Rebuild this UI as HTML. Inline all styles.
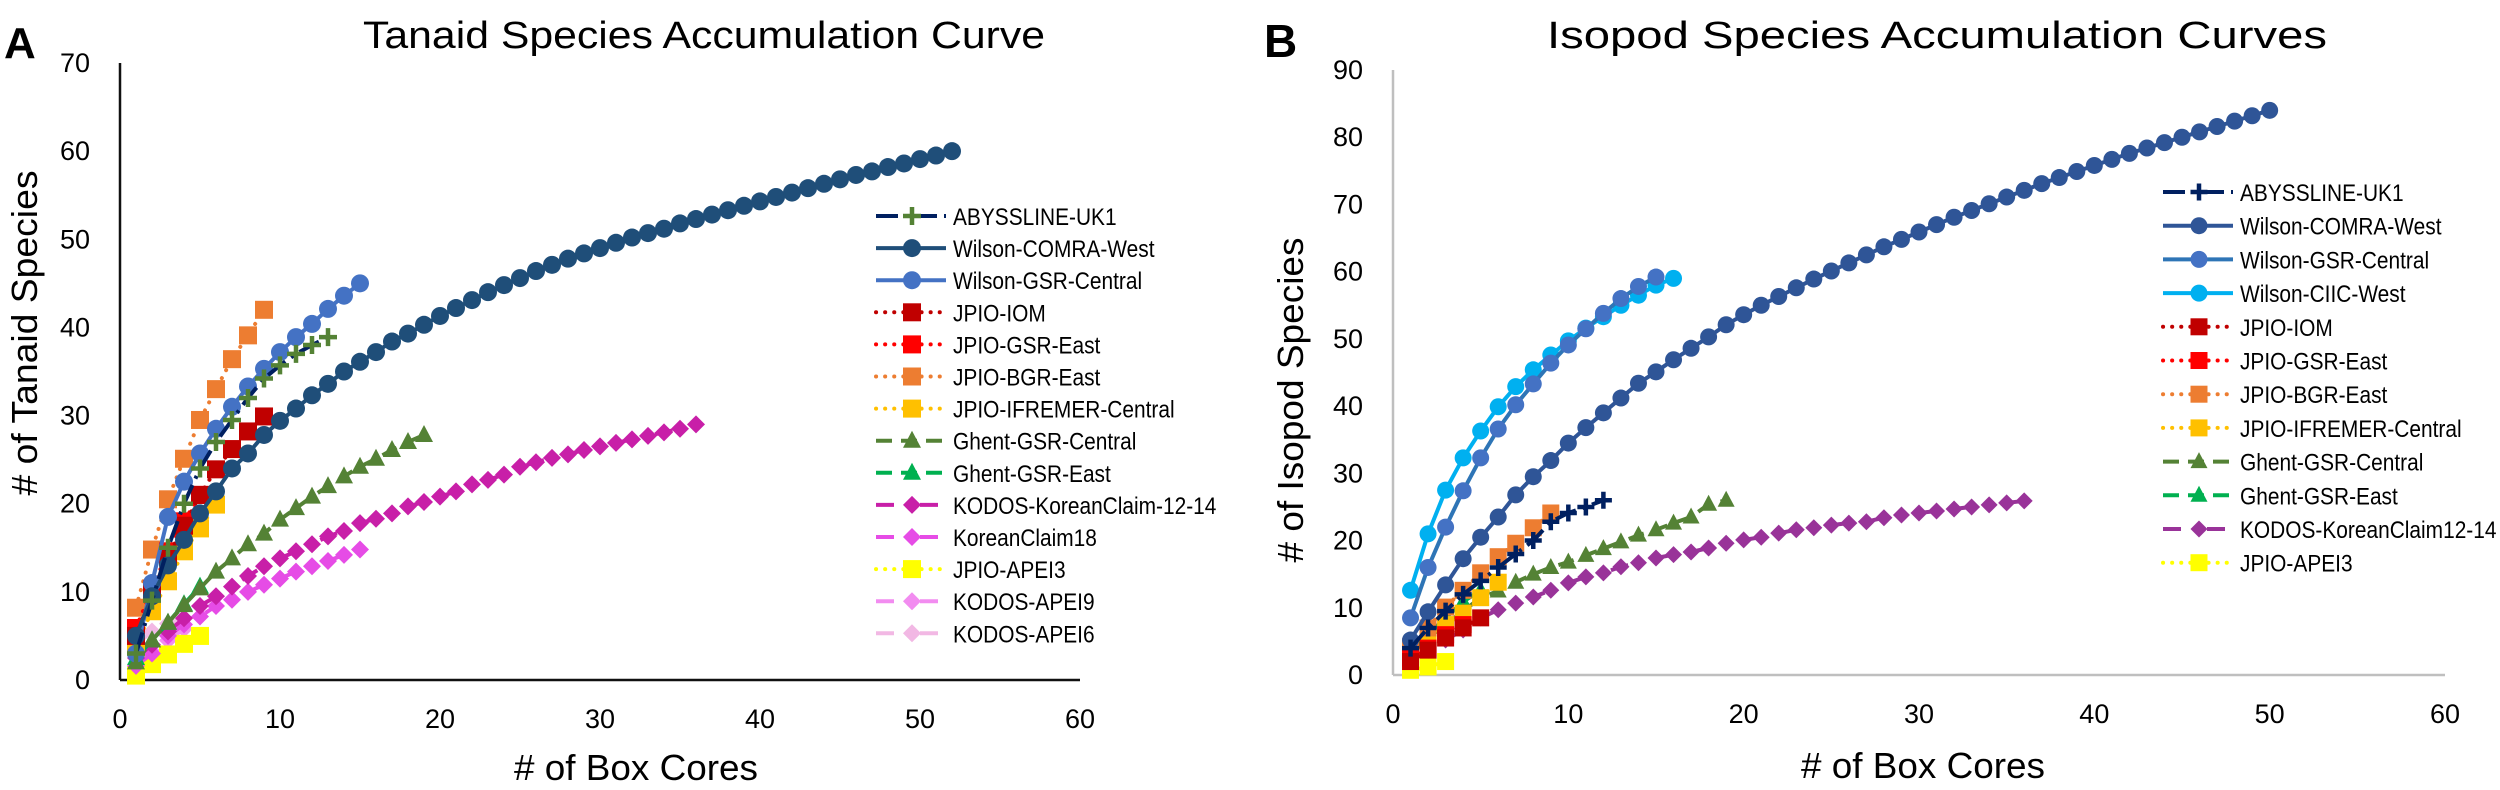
<!DOCTYPE html>
<html>
<head>
<meta charset="utf-8">
<style>
html,body{margin:0;padding:0;background:#fff;}
svg{display:block;font-family:"Liberation Sans",sans-serif;}
</style>
</head>
<body>
<svg id="fig" width="2500" height="790" viewBox="0 0 2500 790" xmlns="http://www.w3.org/2000/svg">
  <text x="4" y="58" font-size="44" font-weight="bold">A</text>
  <text x="1264" y="57" font-size="46" font-weight="bold">B</text>
  <text x="704" y="48" font-size="38" text-anchor="middle" textLength="682" lengthAdjust="spacingAndGlyphs">Tanaid Species Accumulation Curve</text>
  <text x="1937" y="48" font-size="38" text-anchor="middle" textLength="780" lengthAdjust="spacingAndGlyphs">Isopod Species Accumulation Curves</text>
  <text x="636" y="780" font-size="36" text-anchor="middle" textLength="244" lengthAdjust="spacingAndGlyphs"># of Box Cores</text>
  <text x="1923" y="778" font-size="36" text-anchor="middle" textLength="244" lengthAdjust="spacingAndGlyphs"># of Box Cores</text>
  <text transform="translate(37,333) rotate(-90)" font-size="36" text-anchor="middle" textLength="325" lengthAdjust="spacingAndGlyphs"># of Tanaid Species</text>
  <text transform="translate(1303,400) rotate(-90)" font-size="36" text-anchor="middle" textLength="325" lengthAdjust="spacingAndGlyphs"># of Isopod Species</text>
  <g id="chartA"></g>
  <g id="chartB"></g>
</svg>
<script>
// ---------- Tanaid data (species count per number of box cores, x = 1..n) ----------
const tanaidXTicks = [0, 10, 20, 30, 40, 50, 60];
const tanaidYTicks = [0, 10, 20, 30, 40, 50, 60, 70];
const tanAbyssline = [3, 9, 15, 20, 24, 27, 29.5, 32, 34.2, 35.7, 37, 38, 38.9];
const tanComraWest = [5, 9.5, 13, 15.9, 18.9, 21.4, 24, 25.7, 27.8, 29.4, 30.8, 32.3, 33.6, 35, 36.1, 37.2, 38.4, 39.3, 40.3, 41.3, 42.2, 43.1, 44, 44.8, 45.6, 46.4, 47.1, 47.8, 48.4, 49, 49.6, 50.2, 50.7, 51.2, 51.8, 52.3, 52.8, 53.3, 53.8, 54.3, 54.8, 55.3, 55.8, 56.3, 56.8, 57.3, 57.7, 58.2, 58.6, 59.1, 59.5, 60];
const tanGsrCentral = [3, 11, 18.5, 22.5, 25.7, 28.5, 31, 33.3, 35.3, 37.2, 38.9, 40.4, 42.1, 43.6, 45];
const tanJpioIom = [5, 10, 14, 17.5, 21, 23.9, 26.2, 28.2, 29.9];
const tanJpioGsrEast = [5.9, 10.3, 14.6, 18, 21];
const tanJpioBgrEast = [8.2, 14.8, 20.5, 25.1, 29.5, 33, 36.4, 39.1, 42];
const tanJpioIfremer = [4, 7.8, 11.2, 14.6, 17.2, 19.9];
const tanGhentCentral = [2, 4.5, 6.5, 8.5, 10.4, 12.3, 13.8, 15.4, 16.6, 18.2, 19.5, 20.8, 22, 23.1, 24.2, 25.1, 26.1, 27, 27.8];
const tanGhentEast = [2.5, 4.5, 6.5, 8.6, 10.6];
const tanKodosKC = [2.5, 4, 5.5, 7, 8.4, 9.5, 10.6, 11.8, 12.9, 13.8, 14.6, 15.4, 16.3, 16.9, 17.8, 18.3, 18.9, 19.7, 20.2, 20.8, 21.4, 22.2, 22.7, 23.3, 24.2, 24.7, 25.2, 25.6, 26.1, 26.5, 26.9, 27.3, 27.7, 28.1, 28.5, 29];
const tanKC18 = [1.6, 3, 5, 6.3, 7.2, 8.4, 9.1, 10, 10.8, 11.5, 12.3, 12.9, 13.5, 14.2, 14.8];
const tanApei3 = [0.5, 1.8, 2.9, 4.1, 5];
const tanApei9 = [1.5, 3.2, 4.5, 5.8];
const tanApei6 = [4, 5.5, 6.4, 7];

// ---------- Isopod data ----------
const isoXTicks = [0, 10, 20, 30, 40, 50, 60];
const isoYTicks = [0, 10, 20, 30, 40, 50, 60, 70, 80, 90];
const isoAbyssline = [4, 7, 9.5, 12, 14, 16, 18, 20, 22.8, 24.1, 25, 26];
const isoComraWest = [5.2, 9.4, 13.4, 17.3, 20.5, 23.5, 26.8, 29.5, 31.9, 34.5, 36.8, 39, 41.2, 43.4, 45.1, 46.9, 48.6, 50.3, 52.1, 53.6, 55, 56.3, 57.6, 58.9, 60.1, 61.3, 62.5, 63.7, 64.8, 65.9, 67, 68.1, 69.1, 70.1, 71.1, 72.1, 73.1, 74, 74.9, 75.8, 76.7, 77.6, 78.4, 79.2, 80, 80.8, 81.6, 82.4, 83.2, 84];
const isoGsrCentral = [8.5, 16, 22, 27.4, 32.3, 36.6, 40.2, 43.3, 46.4, 49.1, 51.5, 53.8, 56, 57.8, 59.2];
const isoCiicWest = [12.6, 21, 27.5, 32.3, 36.3, 39.9, 42.9, 45.4, 47.6, 49.7, 51.6, 53.3, 55, 56.5, 58, 59];
const isoJpioIom = [2, 3.7, 5.5, 7, 8.5];
const isoJpioGsrEast = [2.5, 4, 6, 7.5];
const isoJpioBgrEast = [4.2, 7, 10.1, 12.6, 15.2, 17.6, 19.6, 21.9, 24.1];
const isoJpioIfremer = [3, 5.5, 7.5, 9.2, 11.5, 13.8];
const isoGhentCentral = [3, 5.5, 7.5, 9.5, 11.5, 12.5, 13.8, 15, 16, 16.8, 17.8, 18.8, 19.8, 20.8, 21.6, 22.6, 23.5, 25.4, 26];
const isoGhentEast = [3.5, 6, 8.5, 10.9, 12.6];
const isoKodosKC = [2.5, 3.7, 5.2, 6.7, 8.5, 9.7, 10.7, 11.6, 12.6, 13.7, 14.6, 15.2, 16.1, 16.7, 17.4, 17.9, 18.3, 18.9, 19.6, 20.1, 20.5, 21.1, 21.6, 21.9, 22.3, 22.6, 22.8, 23.4, 23.8, 24.1, 24.4, 24.7, 25, 25.3, 25.6, 25.9];
const isoApei3 = [0.7, 1.2, 2];

const NS = 'http://www.w3.org/2000/svg';
function mk(tag, attrs, parent) {
  const e = document.createElementNS(NS, tag);
  for (const k in attrs) e.setAttribute(k, attrs[k]);
  parent.appendChild(e);
  return e;
}

const DOT = '0.1,9';
const DASH = '16,9';
const LDASH = '18,26';
const DASHDOT = '22,7,3,7';

function drawMarker(g, type, cx, cy, color, size) {
  let e;
  if (type === 'circle') {
    e = mk('circle', {cx: cx, cy: cy, r: size, fill: color}, g);
  } else if (type === 'square') {
    e = mk('rect', {x: cx - size, y: cy - size, width: 2 * size, height: 2 * size, fill: color}, g);
  } else if (type === 'triangle') {
    e = mk('polygon', {points: (cx) + ',' + (cy - size - 1) + ' ' + (cx - size) + ',' + (cy + size - 2) + ' ' + (cx + size) + ',' + (cy + size - 2), fill: color}, g);
  } else if (type === 'diamond') {
    e = mk('polygon', {points: cx + ',' + (cy - size) + ' ' + (cx + size) + ',' + cy + ' ' + cx + ',' + (cy + size) + ' ' + (cx - size) + ',' + cy, fill: color}, g);
  } else {
    e = mk('path', {d: 'M' + (cx - size) + ',' + cy + 'H' + (cx + size) + 'M' + cx + ',' + (cy - size) + 'V' + (cy + size), stroke: color, 'stroke-width': 4.5, fill: 'none'}, g);
  }
  return e;
}

function buildChart(cfg) {
  const root = document.getElementById(cfg.id);
  const xs = v => cfg.x0 + (v - cfg.xmin) / (cfg.xmax - cfg.xmin) * (cfg.x1 - cfg.x0);
  const ys = v => cfg.y0 - (v - cfg.ymin) / (cfg.ymax - cfg.ymin) * (cfg.y0 - cfg.y1);

  const yAxis = mk('line', {x1: cfg.x0, y1: cfg.y1, x2: cfg.x0, y2: cfg.y0, stroke: cfg.axisColor, 'stroke-width': 2.5}, root);
  
  
  const xAxis = mk('line', {x1: cfg.x0, y1: cfg.y0, x2: cfg.x1, y2: cfg.y0, stroke: cfg.axisColor, 'stroke-width': 2.5}, root);
  
  

  cfg.xTicks.forEach(t => {
    const tx = mk('text', {x: xs(t), y: cfg.y0 + 48, 'font-size': 27, 'text-anchor': 'middle'}, root);
    tx.textContent = String(t);
    
    
  });
  cfg.yTicks.forEach(t => {
    const ty = mk('text', {x: cfg.x0 - 30, y: ys(t) + 9, 'font-size': 27, 'text-anchor': 'end'}, root);
    ty.textContent = String(t);
    
    
  });

  const order = cfg.series.slice().reverse();
  order.forEach(s => {
    const g = mk('g', {}, root);
    
    
    const pts = s.data.map((v, i) => [xs(i + 1), ys(v)]);
    const line = mk('polyline', {points: pts.map(p => p[0].toFixed(1) + ',' + p[1].toFixed(1)).join(' '), fill: 'none', stroke: s.lineColor, 'stroke-width': 4, 'stroke-linecap': s.dash === DOT ? 'round' : 'butt', 'stroke-linejoin': 'round'}, g);
    if (s.dash) line.setAttribute('stroke-dasharray', s.dash);
    
    
    pts.forEach(p => {
      const m = drawMarker(g, s.marker, p[0], p[1], s.color, cfg.msize);
      
      
    });
  });

  cfg.series.forEach((s, i) => {
    const ly = cfg.legY + i * cfg.legStep;
    const lg = mk('g', {}, root);
    
    
    const ll = mk('line', {x1: cfg.legX, y1: ly, x2: cfg.legX + 70, y2: ly, stroke: s.lineColor, 'stroke-width': 4, 'stroke-linecap': s.dash === DOT ? 'round' : 'butt'}, lg);
    if (s.dash) ll.setAttribute('stroke-dasharray', s.dash);
    
    
    const lm = drawMarker(lg, s.marker, cfg.legX + 36, ly, s.color, cfg.msize);
    
    
    const lt = mk('text', {x: cfg.legX + 77, y: ly + 9, 'font-size': 24}, lg);
    lt.textContent = s.label;
    
    
    const w = lt.getComputedTextLength();
    if (w > 0) {
      lt.setAttribute('textLength', (w * 0.87).toFixed(1));
      lt.setAttribute('lengthAdjust', 'spacingAndGlyphs');
    }
  });
}

buildChart({
  id: 'chartA', x0: 120, x1: 1080, y0: 680, y1: 63, xmin: 0, xmax: 60, ymin: 0, ymax: 70,
  axisColor: '#111', xTicks: tanaidXTicks, yTicks: tanaidYTicks, msize: 9,
  legX: 876, legY: 216, legStep: 32.1,
  series: [
    {key: 'abyssline-uk1', label: 'ABYSSLINE-UK1', data: tanAbyssline, color: '#548235', lineColor: '#002060', marker: 'cross', dash: DASHDOT},
    {key: 'wilson-comra-west', label: 'Wilson-COMRA-West', data: tanComraWest, color: '#1f4e79', lineColor: '#1f4e79', marker: 'circle', dash: null},
    {key: 'wilson-gsr-central', label: 'Wilson-GSR-Central', data: tanGsrCentral, color: '#4472c4', lineColor: '#4472c4', marker: 'circle', dash: null},
    {key: 'jpio-iom', label: 'JPIO-IOM', data: tanJpioIom, color: '#c00000', lineColor: '#c00000', marker: 'square', dash: DOT},
    {key: 'jpio-gsr-east', label: 'JPIO-GSR-East', data: tanJpioGsrEast, color: '#ff0000', lineColor: '#ff0000', marker: 'square', dash: DOT},
    {key: 'jpio-bgr-east', label: 'JPIO-BGR-East', data: tanJpioBgrEast, color: '#ed7d31', lineColor: '#ed7d31', marker: 'square', dash: DOT},
    {key: 'jpio-ifremer-central', label: 'JPIO-IFREMER-Central', data: tanJpioIfremer, color: '#ffc000', lineColor: '#ffc000', marker: 'square', dash: DOT},
    {key: 'ghent-gsr-central', label: 'Ghent-GSR-Central', data: tanGhentCentral, color: '#548235', lineColor: '#548235', marker: 'triangle', dash: DASH},
    {key: 'ghent-gsr-east', label: 'Ghent-GSR-East', data: tanGhentEast, color: '#00b050', lineColor: '#00b050', marker: 'triangle', dash: DASH},
    {key: 'kodos-koreanclaim-12-14', label: 'KODOS-KoreanClaim-12-14', data: tanKodosKC, color: '#c81fa8', lineColor: '#c81fa8', marker: 'diamond', dash: LDASH},
    {key: 'koreanclaim18', label: 'KoreanClaim18', data: tanKC18, color: '#e64ce6', lineColor: '#e64ce6', marker: 'diamond', dash: LDASH},
    {key: 'jpio-apei3', label: 'JPIO-APEI3', data: tanApei3, color: '#ffff00', lineColor: '#ffff00', marker: 'square', dash: DOT},
    {key: 'kodos-apei9', label: 'KODOS-APEI9', data: tanApei9, color: '#f28cf0', lineColor: '#f28cf0', marker: 'diamond', dash: LDASH},
    {key: 'kodos-apei6', label: 'KODOS-APEI6', data: tanApei6, color: '#f2b8e4', lineColor: '#f2b8e4', marker: 'diamond', dash: LDASH}
  ]
});

buildChart({
  id: 'chartB', x0: 1393, x1: 2445, y0: 675, y1: 70, xmin: 0, xmax: 60, ymin: 0, ymax: 90,
  axisColor: '#bfbfbf', xTicks: isoXTicks, yTicks: isoYTicks, msize: 8.5,
  legX: 2163, legY: 192, legStep: 33.7,
  series: [
    {key: 'abyssline-uk1', label: 'ABYSSLINE-UK1', data: isoAbyssline, color: '#002060', lineColor: '#002060', marker: 'cross', dash: DASHDOT},
    {key: 'wilson-comra-west', label: 'Wilson-COMRA-West', data: isoComraWest, color: '#2f5597', lineColor: '#2f5597', marker: 'circle', dash: null},
    {key: 'wilson-gsr-central', label: 'Wilson-GSR-Central', data: isoGsrCentral, color: '#4472c4', lineColor: '#2e75b6', marker: 'circle', dash: null},
    {key: 'wilson-ciic-west', label: 'Wilson-CIIC-West', data: isoCiicWest, color: '#00b0f0', lineColor: '#00b0f0', marker: 'circle', dash: null},
    {key: 'jpio-iom', label: 'JPIO-IOM', data: isoJpioIom, color: '#c00000', lineColor: '#c00000', marker: 'square', dash: DOT},
    {key: 'jpio-gsr-east', label: 'JPIO-GSR-East', data: isoJpioGsrEast, color: '#ff0000', lineColor: '#ff0000', marker: 'square', dash: DOT},
    {key: 'jpio-bgr-east', label: 'JPIO-BGR-East', data: isoJpioBgrEast, color: '#ed7d31', lineColor: '#ed7d31', marker: 'square', dash: DOT},
    {key: 'jpio-ifremer-central', label: 'JPIO-IFREMER-Central', data: isoJpioIfremer, color: '#ffc000', lineColor: '#ffc000', marker: 'square', dash: DOT},
    {key: 'ghent-gsr-central', label: 'Ghent-GSR-Central', data: isoGhentCentral, color: '#548235', lineColor: '#548235', marker: 'triangle', dash: DASH},
    {key: 'ghent-gsr-east', label: 'Ghent-GSR-East', data: isoGhentEast, color: '#00b050', lineColor: '#00b050', marker: 'triangle', dash: DASH},
    {key: 'kodos-koreanclaim12-14', label: 'KODOS-KoreanClaim12-14', data: isoKodosKC, color: '#993399', lineColor: '#993399', marker: 'diamond', dash: LDASH},
    {key: 'jpio-apei3', label: 'JPIO-APEI3', data: isoApei3, color: '#ffff00', lineColor: '#ffff00', marker: 'square', dash: DOT}
  ]
});
</script>
</body>
</html>
